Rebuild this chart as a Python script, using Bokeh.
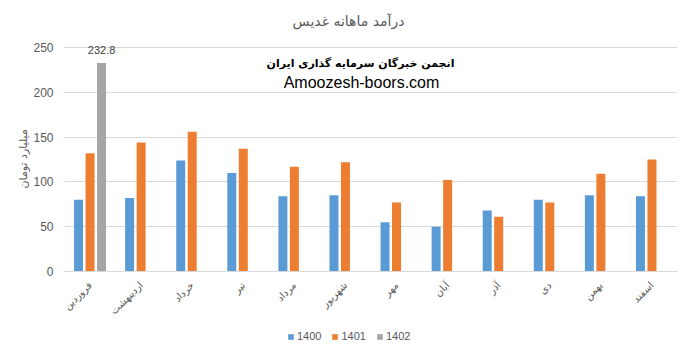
from math import pi
from bokeh.plotting import figure
from bokeh.layouts import column
from bokeh.models import (ColumnDataSource, FactorRange, Range1d, FixedTicker,
                          Label, Legend, LegendItem, Title)
from bokeh.transform import dodge
from bokeh.core.properties import value
from bokeh.embed import file_html
from bokeh.resources import INLINE

months = ["فروردین", "اردیبهشت", "خرداد", "تیر", "مرداد", "شهریور",
          "مهر", "آبان", "آذر", "دی", "بهمن", "اسفند"]
v1400 = [80, 82, 124, 110, 84, 85, 55, 50, 68, 80, 85, 84]
v1401 = [132, 144, 156, 137, 117, 122, 77, 102, 61, 77, 109, 125]
months1402 = ["فروردین"]
v1402 = [232.8]
y_ticks = [0, 50, 100, 150, 200, 250]
series_names = ["1400", "1401", "1402"]

title_text = "درآمد ماهانه غدیس"
y_label = "میلیارد تومان"
note1 = "انجمن خبرگان سرمایه گذاری ایران"
note2 = "Amoozesh-boors.com"

C_BLUE = "#5B9BD5"
C_ORANGE = "#ED7D31"
C_GRAY = "#A5A5A5"
TXT = "#595959"
FONT_P = "DejaVu Sans"
FONT_L = "Liberation Sans"

src = ColumnDataSource(dict(month=months, a=v1400, b=v1401))
src3 = ColumnDataSource(dict(month=months1402, c=v1402,
                             t=[f"{v:.1f}" for v in v1402]))

# main figure: frame left 64, right 677, top 0, bottom 271 ; 250 units -> 224 px
H1 = 325
p = figure(width=692, height=H1, x_range=FactorRange(*months),
           y_range=Range1d(0, 302.5), output_backend="svg", toolbar_location=None,
           min_border_left=64, min_border_right=15, min_border_top=0,
           min_border_bottom=H1 - 271)
p.outline_line_color = None
p.background_fill_color = "white"
p.border_fill_color = "white"

W = 0.176
OFF = [-0.225, 0.0, 0.225]
p.vbar(x=dodge("month", OFF[0], range=p.x_range), top="a", width=W,
       source=src, color=C_BLUE, line_color=None)
p.vbar(x=dodge("month", OFF[1], range=p.x_range), top="b", width=W,
       source=src, color=C_ORANGE, line_color=None)
p.vbar(x=dodge("month", OFF[2], range=p.x_range), top="c", width=W,
       source=src3, color=C_GRAY, line_color=None)

p.text(x=dodge("month", OFF[2], range=p.x_range), y="c", text="t", source=src3,
       text_align="center", text_baseline="middle", y_offset=-13,
       text_font=value(FONT_L), text_font_size="11px", text_color="#404040")

# axes
p.xgrid.grid_line_color = None
p.ygrid.grid_line_color = "#D9D9D9"
p.ygrid.grid_line_width = 1
p.yaxis.ticker = FixedTicker(ticks=y_ticks)
p.yaxis.axis_line_color = None
p.yaxis.major_tick_line_color = None
p.yaxis.minor_tick_line_color = None
p.yaxis.major_tick_out = 0
p.yaxis.major_label_standoff = 11
p.yaxis.major_label_text_font = FONT_L
p.yaxis.major_label_text_font_size = "12px"
p.yaxis.major_label_text_color = TXT

p.xaxis.axis_line_color = "#D9D9D9"
p.xaxis.major_tick_line_color = None
p.xaxis.minor_tick_line_color = None
p.xaxis.major_tick_out = 0
p.xaxis.major_label_orientation = pi / 4
p.xaxis.major_label_standoff = 12
p.xaxis.major_label_text_font = FONT_P
p.xaxis.major_label_text_font_size = "10px"
p.xaxis.major_label_text_color = TXT

# y-axis title in the left panel (starts from the bottom, offset upward)
p.add_layout(Title(text=y_label, align="left", offset=83, standoff=1,
                   text_font=FONT_P, text_font_size="11px",
                   text_font_style="normal", text_color=TXT), "left")

# texts (screen units relative to frame bottom-left; frame left=64, bottom=271)
def lab(cx, cy, text, **kw):
    p.add_layout(Label(x=cx - 64, y=271 - cy, x_units="screen", y_units="screen",
                       text=text, text_align="center", text_baseline="middle",
                       **kw))

lab(348, 20, title_text, text_font=FONT_P, text_font_size="14px", text_color=TXT)
lab(360, 63, note1, text_font=FONT_P, text_font_size="11px",
    text_font_style="bold", text_color="black")
lab(361, 82, note2, text_font=FONT_L, text_font_size="16px", text_color="black")

# legend strip (its frame is aligned with the main frame: left 64)
H2 = 353 - H1
q = figure(width=692, height=H2, x_range=p.x_range, y_range=Range1d(-2, -1),
           output_backend="svg", toolbar_location=None, min_border=0)
q.axis.visible = False
q.grid.grid_line_color = None
q.outline_line_color = None
q.background_fill_color = "white"
q.border_fill_color = "white"
l1 = q.vbar(x=dodge("month", OFF[0], range=q.x_range), top="a", width=W,
            source=src, color=C_BLUE, line_color=None, visible=False)
l2 = q.vbar(x=dodge("month", OFF[1], range=q.x_range), top="b", width=W,
            source=src, color=C_ORANGE, line_color=None, visible=False)
l3 = q.vbar(x=dodge("month", OFF[2], range=q.x_range), top="c", width=W,
            source=src3, color=C_GRAY, line_color=None, visible=False)

legend = Legend(items=[LegendItem(label=series_names[0], renderers=[l1]),
                       LegendItem(label=series_names[1], renderers=[l2]),
                       LegendItem(label=series_names[2], renderers=[l3])],
                orientation="horizontal", location=(287 - 64, 11),
                glyph_width=7, glyph_height=7, label_standoff=3, spacing=10,
                padding=0, margin=0, label_height=12,
                label_text_font=FONT_L, label_text_font_size="11px",
                label_text_color=TXT, border_line_color=None,
                background_fill_alpha=0)
q.add_layout(legend, "center")

layout = column(p, q, spacing=0)
open("out.html", "w").write(file_html(layout, INLINE))
